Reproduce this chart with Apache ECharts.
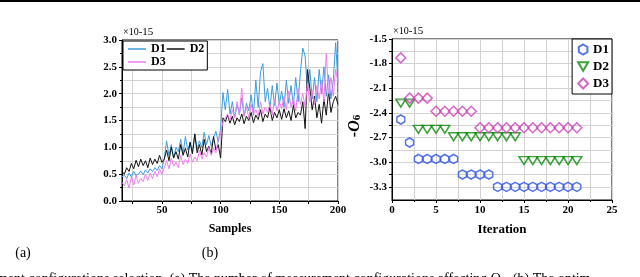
<!DOCTYPE html>
<html><head><meta charset="utf-8">
<script src="https://cdn.jsdelivr.net/npm/echarts@6/dist/echarts.min.js"></script>
<style>html,body{margin:0;padding:0;background:#fff}#c{width:640px;height:277px}</style>
</head><body><div id="c"></div>
<script>
// ---------- left panel (a) ----------
const samples = [16,18,20,22,24,26,28,30,32,34,36,38,40,42,44,46,48,50,52,54,56,58,60,62,64,66,68,70,72,74,76,78,80,82,84,86,88,90,92,94,96,98,100,102,104,106,108,110,112,114,116,118,120,122,124,126,128,130,132,134,136,138,140,142,144,146,148,150,152,154,156,158,160,162,164,166,168,170,172,174,176,178,180,182,184,186,188,190,192,194,196,198,200];
const seriesA_D1 = [0.45,0.48,0.42,0.52,0.45,0.55,0.48,0.50,0.56,0.49,0.58,0.52,0.60,0.55,0.62,0.57,0.66,0.60,
  0.78,1.12,0.85,1.05,0.80,1.00,0.92,1.15,0.88,1.20,0.95,1.08,0.90,1.25,0.96,1.12,1.00,1.28,1.05,1.22,1.02,1.18,1.30,1.10,1.35,
  2.02,1.70,2.08,1.62,1.85,1.55,1.80,1.62,1.92,1.58,1.82,1.68,1.98,1.60,2.25,1.75,2.40,2.56,1.85,2.10,1.72,2.15,1.78,2.20,1.80,
  2.05,1.75,2.25,1.82,2.15,1.78,2.30,1.85,2.40,2.85,2.70,2.05,2.45,1.90,2.30,1.85,2.45,2.00,2.50,1.95,2.35,1.90,2.25,2.95,2.20];
const seriesA_D2 = [0.55,0.50,0.62,0.55,0.70,0.60,0.76,0.64,0.78,0.66,0.75,0.62,0.80,0.68,0.78,0.70,0.85,0.72,
  0.78,0.95,0.75,1.00,0.80,0.92,0.78,1.05,0.85,0.98,0.82,1.10,0.88,1.25,0.90,1.05,0.86,1.15,0.92,1.02,0.88,1.20,0.95,1.05,0.80,
  1.55,1.48,1.60,1.45,1.58,1.42,1.55,1.48,1.62,1.44,1.58,1.50,1.65,1.46,1.60,1.52,1.70,1.48,1.62,1.55,1.75,1.50,1.65,1.55,1.70,
  1.52,1.72,1.55,1.68,1.50,1.78,1.55,1.65,1.60,1.85,1.35,2.45,2.10,1.70,1.95,1.55,1.80,1.45,1.90,1.60,2.05,1.65,1.85,1.95,1.80];
const seriesA_D3 = [0.35,0.28,0.40,0.24,0.45,0.30,0.48,0.33,0.42,0.36,0.50,0.38,0.52,0.42,0.55,0.45,0.60,0.50,
  0.62,0.75,0.60,0.80,0.65,0.72,0.62,0.85,0.68,0.78,0.70,0.88,0.72,0.82,0.75,0.95,0.78,0.90,0.82,1.00,0.85,0.98,0.90,1.15,1.25,
  1.48,1.55,1.62,1.50,1.70,1.55,1.85,1.60,2.10,1.58,1.75,1.55,1.80,1.62,1.70,1.58,1.85,1.62,1.75,1.65,1.80,1.60,1.90,1.68,1.85,
  1.72,1.95,1.70,2.05,1.75,1.90,1.68,2.10,1.80,2.00,1.75,2.20,1.85,2.05,1.80,2.15,1.90,2.25,1.85,2.75,2.00,2.30,1.95,2.45,2.20];
const aXTicks = [25,50,75,100,125,150,175,200];
const aXLabels = [50,100,150,200];

// ---------- right panel (b) ----------
const iterations = [1,2,3,4,5,6,7,8,9,10,11,12,13,14,15,16,17,18,19,20,21];
const seriesB_D1 = [-2.48,-2.76,-2.96,-2.96,-2.96,-2.96,-2.96,-3.15,-3.15,-3.15,-3.15,-3.3,-3.3,-3.3,-3.3,-3.3,-3.3,-3.3,-3.3,-3.3,-3.3];
const seriesB_D2 = [-2.28,-2.28,-2.6,-2.6,-2.6,-2.6,-2.69,-2.69,-2.69,-2.69,-2.69,-2.69,-2.69,-2.69,-2.98,-2.98,-2.98,-2.98,-2.98,-2.98,-2.98];
const seriesB_D3 = [-1.73,-2.22,-2.22,-2.22,-2.38,-2.38,-2.38,-2.38,-2.38,-2.58,-2.58,-2.58,-2.58,-2.58,-2.58,-2.58,-2.58,-2.58,-2.58,-2.58,-2.58];
const bYTicks = [-3.3,-3.15,-3.0,-2.85,-2.7,-2.55,-2.4,-2.25,-2.1,-1.95,-1.8,-1.65,-1.5];
const bYLabels = [-3.3,-3.0,-2.7,-2.4,-2.1,-1.8,-1.5];

const F = '"Liberation Serif","Times New Roman",serif';
const tickLbl = {color:'#000', fontFamily:F, fontWeight:'bold', fontSize:11};
const gridLine = {show:true, lineStyle:{color:'#d2d2d2', width:1}};
const axLine = {show:true, lineStyle:{color:'#000', width:1}};
const tick = {show:true, length:3, lineStyle:{color:'#000'}};

const hexagon = 'path://M5,0 L9.33,2.5 L9.33,7.5 L5,10 L0.67,7.5 L0.67,2.5 Z';
const triDown = 'path://M0,0 L10,0 L5,8.5 Z';

const chart = echarts.init(document.getElementById('c'), null, {renderer:'canvas'});
chart.setOption({
  animation:false,
  backgroundColor:'#fff',
  grid:[
    {left:122, top:40, width:216, height:161, show:true, borderColor:'#000', borderWidth:1, backgroundColor:'rgba(0,0,0,0)'},
    {left:392, top:39, width:220, height:161, show:true, borderColor:'#000', borderWidth:1, backgroundColor:'rgba(0,0,0,0)'}
  ],
  xAxis:[
    {type:'value', gridIndex:0, min:16, max:200, axisLine:axLine,
     axisTick:Object.assign({customValues:aXTicks}, tick),
     axisLabel:Object.assign({customValues:aXLabels, margin:4}, tickLbl),
     splitLine:gridLine,
     name:'Samples', nameLocation:'middle', nameGap:22,
     nameTextStyle:{color:'#000', fontFamily:F, fontWeight:'bold', fontSize:12}},
    {type:'value', gridIndex:1, min:0, max:25, interval:5, axisLine:axLine, axisTick:tick,
     minorTick:{show:true, splitNumber:2, length:2, lineStyle:{color:'#000'}},
     axisLabel:Object.assign({margin:5}, tickLbl),
     splitLine:gridLine, minorSplitLine:{show:true, lineStyle:{color:'#d2d2d2'}},
     name:'Iteration', nameLocation:'middle', nameGap:23,
     nameTextStyle:{color:'#000', fontFamily:F, fontWeight:'bold', fontSize:13}}
  ],
  yAxis:[
    {type:'value', gridIndex:0, min:0, max:3, interval:0.5, axisLine:axLine, axisTick:tick,
     minorTick:{show:true, splitNumber:2, length:2, lineStyle:{color:'#000'}},
     axisLabel:Object.assign({margin:5, formatter:v=>v.toFixed(1)}, tickLbl),
     splitLine:gridLine, minorSplitLine:{show:true, lineStyle:{color:'#d2d2d2'}}},
    {type:'value', gridIndex:1, min:-3.46, max:-1.5, axisLine:axLine,
     axisTick:Object.assign({customValues:bYTicks}, tick),
     axisLabel:Object.assign({customValues:bYLabels, margin:5, formatter:v=>v.toFixed(1)}, tickLbl),
     splitLine:gridLine}
  ],
  legend:[
    {left:123, top:41, width:84, orient:'horizontal', itemGap:1, itemWidth:18, itemHeight:1.5, icon:'rect',
     padding:[2,3,2,5], borderColor:'#000', borderWidth:1, backgroundColor:'#fff',
     data:['D1','D2','D3'], textStyle:{color:'#000', fontFamily:F, fontWeight:'bold', fontSize:12, lineHeight:12}},
    {right:28, top:39, orient:'vertical', itemGap:4, itemWidth:10, itemHeight:10,
     padding:[4,3,4,5], borderColor:'#000', borderWidth:1, backgroundColor:'#fff',
     data:['D1 (b)','D2 (b)','D3 (b)'], formatter:n=>n.split(' ')[0],
     textStyle:{color:'#000', fontFamily:F, fontWeight:'bold', fontSize:13}}
  ],
  series:[
    {name:'D1', type:'line', xAxisIndex:0, yAxisIndex:0, symbol:'none', showSymbol:false,
     color:'#3d9cdc', lineStyle:{width:1, color:'#3d9cdc'}, data:samples.map((s,i)=>[s, seriesA_D1[i]])},
    {name:'D2', type:'line', xAxisIndex:0, yAxisIndex:0, symbol:'none', showSymbol:false,
     color:'#111', lineStyle:{width:1, color:'#111'}, data:samples.map((s,i)=>[s, seriesA_D2[i]])},
    {name:'D3', type:'line', xAxisIndex:0, yAxisIndex:0, symbol:'none', showSymbol:false,
     color:'#f27ef0', lineStyle:{width:1, color:'#f27ef0'}, data:samples.map((s,i)=>[s, seriesA_D3[i]])},
    {name:'D1 (b)', type:'scatter', xAxisIndex:1, yAxisIndex:1, symbol:hexagon, symbolSize:[8,9],
     itemStyle:{color:'rgba(255,255,255,0)', borderColor:'#2b4fe0', borderWidth:1.5},
     data:iterations.map((t,i)=>[t, seriesB_D1[i]])},
    {name:'D2 (b)', type:'scatter', xAxisIndex:1, yAxisIndex:1, symbol:triDown, symbolSize:[10,8],
     itemStyle:{color:'rgba(255,255,255,0)', borderColor:'#0d8a0d', borderWidth:1.5},
     data:iterations.map((t,i)=>[t, seriesB_D2[i]])},
    {name:'D3 (b)', type:'scatter', xAxisIndex:1, yAxisIndex:1, symbol:'diamond', symbolSize:[10,10],
     itemStyle:{color:'rgba(255,255,255,0)', borderColor:'#cf40b8', borderWidth:1.5},
     data:iterations.map((t,i)=>[t, seriesB_D3[i]])}
  ],
  graphic:[
    {type:'rect', left:0, top:0, shape:{width:640, height:2}, style:{fill:'#000'}, silent:true},
    {type:'text', x:123, y:32, style:{text:'{a|×10}{b|-15}', verticalAlign:'middle', align:'left',
      rich:{a:{fontFamily:F, fontSize:10, fill:'#000', verticalAlign:'bottom'}, b:{fontFamily:F, fontSize:11, fill:'#000', verticalAlign:'top'}}}},
    {type:'text', x:393, y:31, style:{text:'{a|×10}{b|-15}', verticalAlign:'middle', align:'left',
      rich:{a:{fontFamily:F, fontSize:10, fill:'#000', verticalAlign:'bottom'}, b:{fontFamily:F, fontSize:11, fill:'#000', verticalAlign:'top'}}}},
    {type:'text', x:355, y:126, rotation:Math.PI/2, style:{text:'{a|-}{o|O}{s|6}', align:'center', verticalAlign:'middle',
      rich:{a:{fontFamily:F, fontSize:16, fontWeight:'bold', fill:'#000'}, o:{fontFamily:F, fontSize:16, fontWeight:'bold', fontStyle:'italic', fill:'#000'},
            s:{fontFamily:F, fontSize:11, fontWeight:'bold', fill:'#000', verticalAlign:'bottom'}}}},
    {type:'text', x:23, y:253, style:{text:'(a)', font:'14px '+F, fill:'#000', align:'center', verticalAlign:'middle'}},
    {type:'text', x:210, y:253, style:{text:'(b)', font:'14px '+F, fill:'#000', align:'center', verticalAlign:'middle'}},
    {type:'text', x:-3, y:286, style:{text:'ment configurations selection. (a) The number of measurement configurations affecting O₆. (b) The optim',
      font:'14px '+F, fill:'#000', align:'left', verticalAlign:'bottom'}}
  ]
});
</script></body></html>
